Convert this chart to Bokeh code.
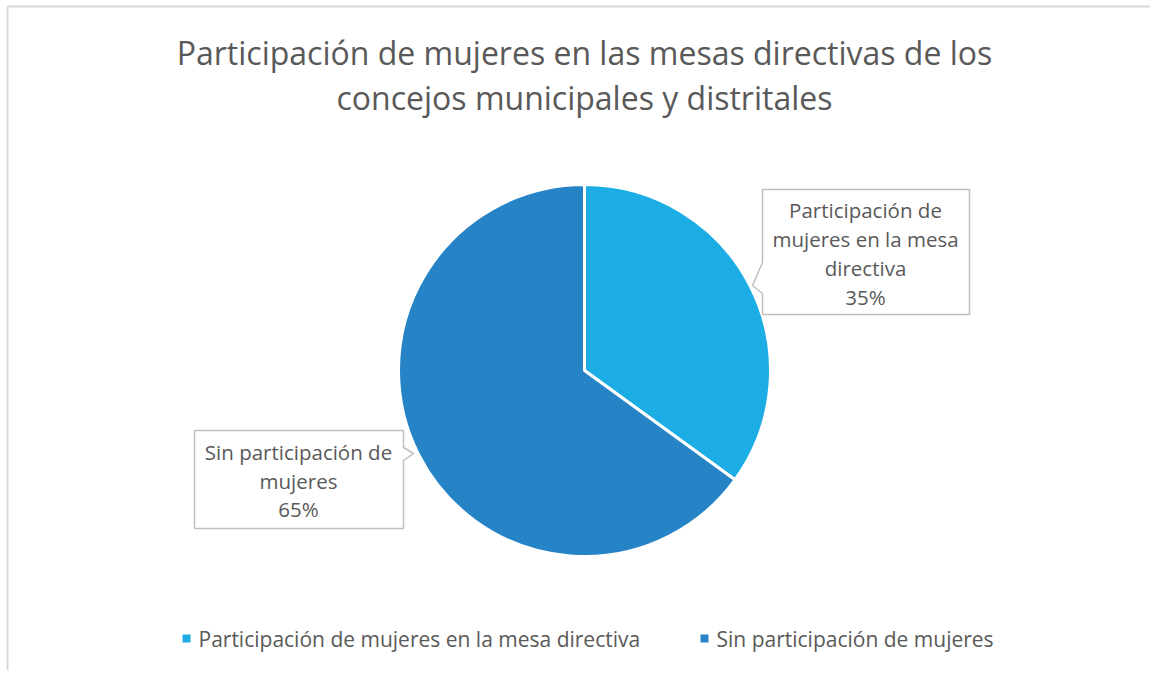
import math
from bokeh.plotting import figure
from bokeh.models import Range1d, ColumnDataSource
from bokeh.core.properties import value
from bokeh.embed import file_html
from bokeh.resources import INLINE

# ---- data ----
title_lines = ["Participación de mujeres en las mesas directivas de los",
               "concejos municipales y distritales"]
categories = ["Participación de mujeres en la mesa directiva",
              "Sin participación de mujeres"]
values = [35, 65]
colors = ["#1CADE4", "#2683C6"]
callout_lines = [["Participación de", "mujeres en la mesa", "directiva"],
                 ["Sin participación de", "mujeres"]]

FONT = value("Open Sans")
TXT = "#595959"
W, H = 1150, 670
OX, OY = 0, 0  # page offset of the figure


def X(px):
    return px - OX


def Y(py):
    return H + OY - py


p = figure(width=W, height=H, output_backend="svg", toolbar_location=None,
           x_range=Range1d(0, W), y_range=Range1d(0, H),
           x_axis_type=None, y_axis_type=None, min_border=0)
p.grid.visible = False
p.outline_line_color = None
p.background_fill_color = "white"
p.border_fill_color = "white"

# chart frame (left and top edges visible)
p.line(x=[X(7), X(7)], y=[Y(6), Y(673)], line_color="#d9d9d9", line_width=2)
p.line(x=[X(7), X(1154)], y=[Y(6), Y(6)], line_color="#d9d9d9", line_width=2)

# title
p.text(x=[X(584)] * 2, y=[Y(52), Y(97)], text=title_lines, text_font=FONT,
       text_font_size="32px", text_color=TXT, text_align="center",
       text_baseline="middle")

# pie
total = sum(values)
cum = 0
starts, ends = [], []
for v in values:
    a0 = math.pi / 2 - 2 * math.pi * (cum + v) / total
    a1 = math.pi / 2 - 2 * math.pi * cum / total
    starts.append(a0)
    ends.append(a1)
    cum += v
src = ColumnDataSource(dict(start=starts, end=ends, color=colors, cat=categories))
p.wedge(x=X(584), y=Y(370), radius=186, radius_units="screen",
        start_angle="start", end_angle="end", fill_color="color",
        line_color="white", line_width=3, source=src)

# callouts
box_col = "#bfbfbf"
# right callout with pointer on left side
rx = [762, 969, 969, 762, 762, 752, 762, 762]
ry = [189, 189, 314, 314, 293, 285, 262, 189]
p.patch(x=[X(v) for v in rx], y=[Y(v) for v in ry], fill_color="white",
        line_color=box_col, line_width=1.5)
# left callout with pointer on right side
lx = [194, 403, 403, 413, 403, 403, 194, 194]
ly = [430, 430, 447, 453, 460, 528, 528, 430]
p.patch(x=[X(v) for v in lx], y=[Y(v) for v in ly], fill_color="white",
        line_color=box_col, line_width=1.5)

pct = [f"{round(100 * v / total)}%" for v in values]
right_text = callout_lines[0] + [pct[0]]
left_text = callout_lines[1] + [pct[1]]
p.text(x=[X(865)] * 4, y=[Y(v) for v in [209, 238, 267, 296]], text=right_text,
       text_font=FONT, text_font_size="20.5px", text_color=TXT,
       text_align="center", text_baseline="middle")
p.text(x=[X(298)] * 3, y=[Y(v) for v in [451, 480, 508]], text=left_text,
       text_font=FONT, text_font_size="20.5px", text_color=TXT,
       text_align="center", text_baseline="middle")

# legend
lgx = [186, 704]
p.rect(x=[X(v) for v in lgx], y=[Y(638)] * 2, width=8, height=8,
       width_units="screen", height_units="screen", fill_color=colors, line_color=None)
p.text(x=[X(v + 12) for v in lgx], y=[Y(638)] * 2, text=categories, text_font=FONT,
       text_font_size="21px", text_color=TXT, text_align="left", text_baseline="middle")

open("out.html", "w").write(file_html(p, INLINE))
